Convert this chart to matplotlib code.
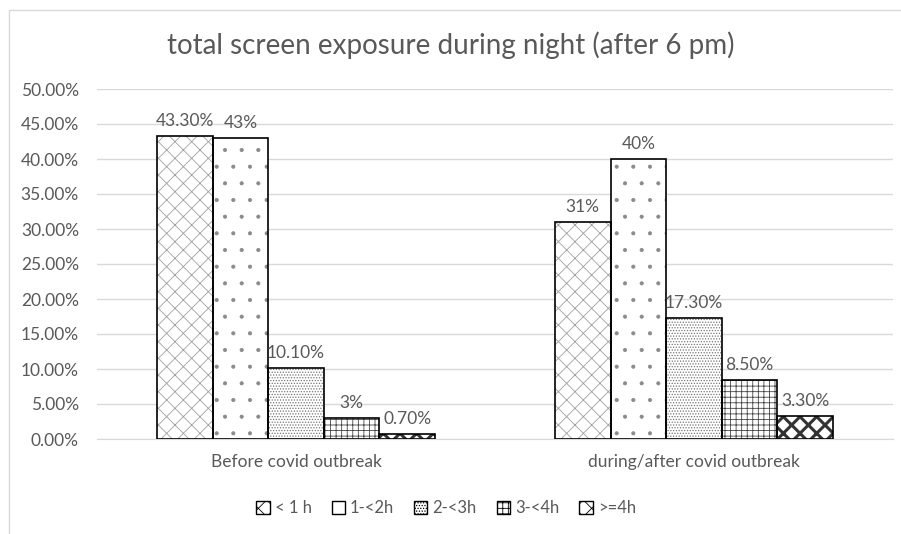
import matplotlib.pyplot as plt
import numpy as np
from matplotlib.patches import Rectangle

# data
groups = ['Before covid outbreak', 'during/after covid outbreak']
series = ['< 1 h', '1-<2h', '2-<3h', '3-<4h', '>=4h']
before = [0.433, 0.43, 0.101, 0.03, 0.007]
after = [0.31, 0.40, 0.173, 0.085, 0.033]
before_labels = ['43.30%', '43%', '10.10%', '3%', '0.70%']
after_labels = ['31%', '40%', '17.30%', '8.50%', '3.30%']
hatches = ['xx', '.', '......', '+++', 'xx']
hatch_cols = ['#a0a0a0', '#8a8a8a', '#777777', '#444444', '#333333']
hatch_lws = [0.6, 0.5, 0.6, 0.6, 2.2]

plt.rcParams['font.family'] = ['Lato', 'DejaVu Sans']
grey = '#595959'

fig = plt.figure(figsize=(9.01, 5.34), dpi=100)
ax = fig.add_axes([97 / 901, 1 - 439 / 534, 796 / 901, 350 / 534])

# light chart border like the excel chart area
fig.add_artist(Rectangle((9 / 901, -0.1), 1.2, 1 - 10 / 534 + 0.1, transform=fig.transFigure,
                         fill=False, edgecolor='#d9d9d9', linewidth=1))

x = np.arange(len(groups))
w = 0.1397
vals = [before, after]
labs = [before_labels, after_labels]
handles = []
for i, s in enumerate(series):
    xs = x + (i - 2) * w
    ys = [vals[0][i], vals[1][i]]
    plt.rcParams['hatch.linewidth'] = hatch_lws[i]
    ax.bar(xs, ys, w, color='white', edgecolor=hatch_cols[i], hatch=hatches[i], linewidth=0, zorder=2)
    ax.bar(xs, ys, w, fill=False, edgecolor='black', linewidth=1.2, zorder=3)
    plt.rcParams['hatch.linewidth'] = 0.6
    handles.append(ax.bar([0], [0], 0, color='white', edgecolor='black', hatch=hatches[i], linewidth=1))
    for j in range(2):
        ax.text(xs[j], ys[j] + 0.01, labs[j][i], ha='center', va='bottom', fontsize=12.5, color=grey)

ax.set_xlim(-0.5, 1.5)
ax.set_ylim(0, 0.5)
ticks = np.arange(0, 0.51, 0.05)
ax.set_yticks(ticks)
ax.set_yticklabels(['{:.2f}%'.format(v * 100) for v in ticks])
ax.set_xticks(x)
ax.set_xticklabels(groups)
ax.tick_params(length=0, labelsize=12.5, colors=grey)
ax.tick_params(axis='y', pad=13)
ax.tick_params(axis='x', pad=11)
ax.grid(axis='y', color='#d9d9d9', linewidth=1, zorder=0)
ax.set_axisbelow(True)
for sp in ['top', 'right', 'left']:
    ax.spines[sp].set_visible(False)
ax.spines['bottom'].set_color('#d9d9d9')

fig.suptitle('total screen exposure during night (after 6 pm)', y=1 - 45 / 534, va='center',
             fontsize=20, color=grey)
fig.legend(handles, series, loc='center', bbox_to_anchor=(446 / 901, 1 - 508 / 534), ncol=5,
           frameon=False, fontsize=12, handlelength=0.8, handleheight=0.8, handletextpad=0.3,
           columnspacing=1.2, labelcolor=grey)

fig.savefig('out.png', dpi=100)
